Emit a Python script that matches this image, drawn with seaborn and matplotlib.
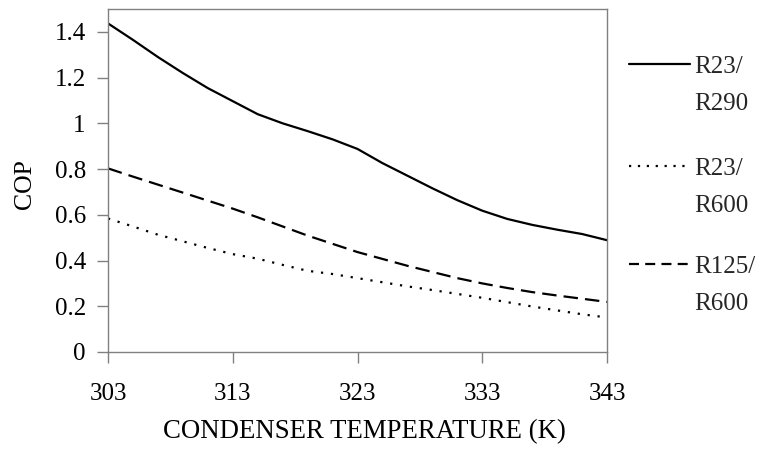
import numpy as np
import pandas as pd
import matplotlib
matplotlib.use("Agg")
import matplotlib.pyplot as plt
from matplotlib.lines import Line2D
from matplotlib.ticker import FuncFormatter
import seaborn as sns

# ---- data ----
temps = [303, 305, 307, 309, 311, 313, 315, 317, 319, 321, 323,
         325, 327, 329, 331, 333, 335, 337, 339, 341, 343]
cop_r23_r290 = [1.437, 1.365, 1.29, 1.22, 1.154, 1.097, 1.04, 1.00, 0.966, 0.93, 0.888,
                0.826, 0.771, 0.716, 0.664, 0.618, 0.582, 0.556, 0.535, 0.516, 0.489]
cop_r23_r600 = [0.584, 0.549, 0.513, 0.484, 0.455, 0.428, 0.408, 0.381, 0.355, 0.341, 0.323,
                0.305, 0.287, 0.271, 0.254, 0.237, 0.218, 0.199, 0.182, 0.165, 0.151]
cop_r125_r600 = [0.803, 0.767, 0.732, 0.697, 0.662, 0.627, 0.589, 0.549, 0.509, 0.473, 0.437,
                 0.407, 0.377, 0.35, 0.323, 0.30, 0.28, 0.262, 0.247, 0.233, 0.219]
series_names = ["R23/R290", "R23/R600", "R125/R600"]
legend_labels = [("R23/", "R290"), ("R23/", "R600"), ("R125/", "R600")]
x_ticks = [303, 313, 323, 333, 343]
y_ticks = [0, 0.2, 0.4, 0.6, 0.8, 1.0, 1.2, 1.4]

df = pd.concat([
    pd.DataFrame({"T": temps, "COP": cop_r23_r290, "pair": series_names[0]}),
    pd.DataFrame({"T": temps, "COP": cop_r23_r600, "pair": series_names[1]}),
    pd.DataFrame({"T": temps, "COP": cop_r125_r600, "pair": series_names[2]}),
])

sns.set_theme(style="white")
plt.rcParams["font.family"] = ["Liberation Serif", "DejaVu Serif"]
FS = 18

fig = plt.figure(figsize=(7.57, 4.57), dpi=100)
W, H = 757, 457
ax = fig.add_axes([108 / W, 1 - 352 / H, (607 - 108) / W, (352 - 9) / H])

dash_map = {series_names[0]: "", series_names[1]: (1, 3.5), series_names[2]: (6.5, 3.2)}
sns.lineplot(data=df, x="T", y="COP", hue="pair", style="pair",
             palette=["black"] * 3, dashes=dash_map, linewidth=1.6,
             legend=False, ax=ax, sort=True)

ax.set_xlim(303, 343)
ax.set_ylim(0, 1.5)
ax.set_xticks(x_ticks)
ax.set_yticks(y_ticks)
ax.yaxis.set_major_formatter(FuncFormatter(lambda v, p: f"{v:g}"))
ax.tick_params(axis="both", which="major", direction="out", length=8, width=1,
               color="#808080", labelsize=FS, labelcolor="black", left=True, bottom=True)
ax.tick_params(axis="x", pad=14)
ax.tick_params(axis="y", pad=8)
for s in ax.spines.values():
    s.set_color("#808080")
    s.set_linewidth(1)
    s.set_visible(True)

ax.set_xlabel("CONDENSER TEMPERATURE (K)", fontsize=19.3, color="black")
ax.xaxis.set_label_coords((364 - 108) / 499, (352 - 419) / 343)
ax.set_ylabel("COP", fontsize=FS + 0.5, color="black", va="center")
ax.yaxis.set_label_coords((25.5 - 108) / 499, (352 - 184) / 343)

# manual legend on the right
leg_y = [64, 166, 264]
leg_styles = ["-", (0, (1, 3)), (0, (4.5, 2.8))]
for (l1, l2), ly, ls in zip(legend_labels, leg_y, leg_styles):
    fig.add_artist(Line2D([629 / W, 690 / W], [1 - ly / H] * 2, transform=fig.transFigure,
                          color="black", linewidth=1.6, linestyle=ls))
    fig.text(694 / W, 1 - (ly + 9) / H, l1, fontsize=FS, va="baseline", ha="left")
    fig.text(694 / W, 1 - (ly + 46) / H, l2, fontsize=FS, va="baseline", ha="left")

fig.savefig("out.png", dpi=100, facecolor="white")
